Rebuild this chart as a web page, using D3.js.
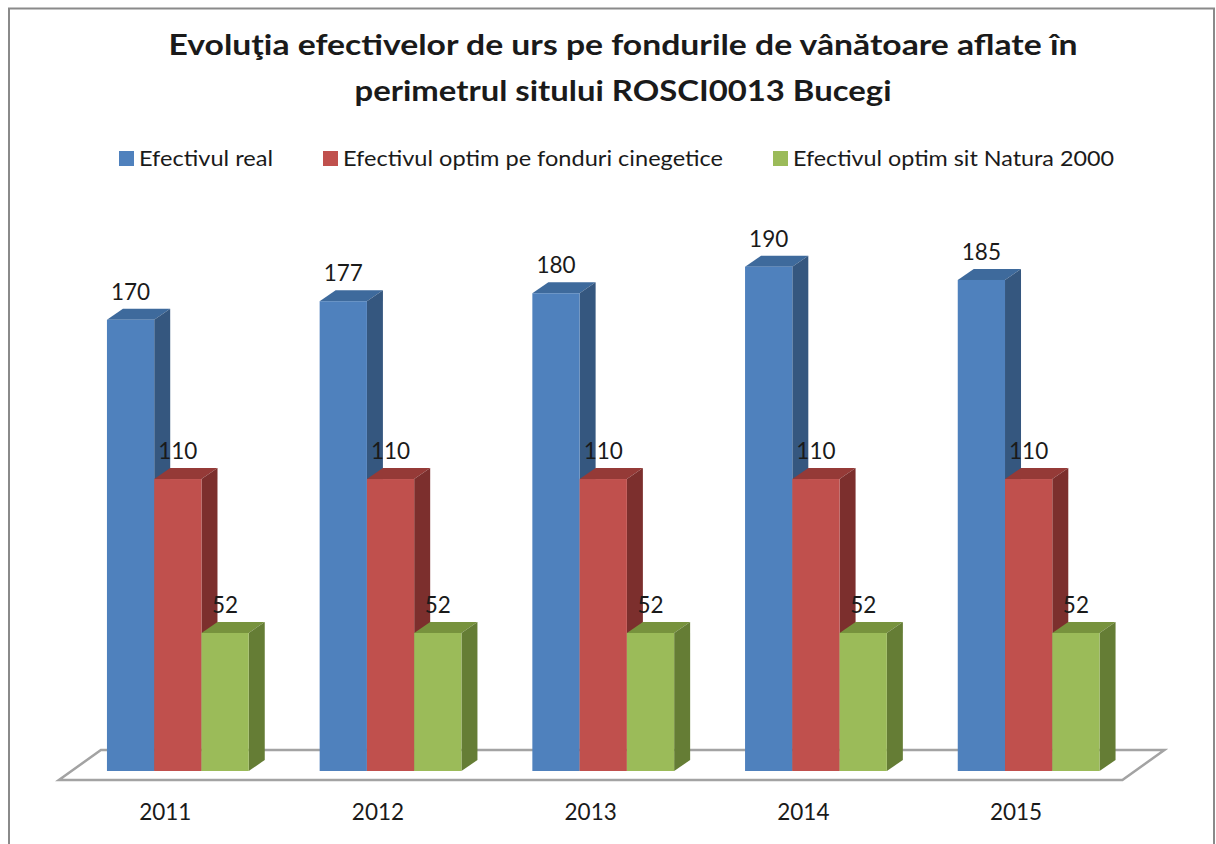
<!DOCTYPE html>
<html>
<head>
<meta charset="utf-8">
<script src="https://cdn.jsdelivr.net/npm/d3@7"></script>
<style>
  html, body { margin: 0; padding: 0; background: #fff; }
  svg { display: block; }
  text { font-family: Lato, "Open Sans", sans-serif; fill: #1a1a1a; }
</style>
</head>
<body>
<svg id="chart" width="1216" height="844"></svg>
<script>
const titleLines = ["Evoluţia efectivelor de urs pe fondurile de vânătoare aflate în", "perimetrul sitului ROSCI0013 Bucegi"];
const categories = ["2011", "2012", "2013", "2014", "2015"];
const seriesNames = ["Efectivul real", "Efectivul optim pe fonduri cinegetice", "Efectivul optim sit Natura 2000"];
const efectivReal = [170, 177, 180, 190, 185];
const efectivOptimFonduri = [110, 110, 110, 110, 110];
const efectivOptimNatura = [52, 52, 52, 52, 52];

const seriesValues = [efectivReal, efectivOptimFonduri, efectivOptimNatura];
const colors = [
  { front: "#4F81BD", top: "#3E6A9C", side: "#35577F" },
  { front: "#C0504D", top: "#953A37", side: "#7C2F2D" },
  { front: "#9BBB59", top: "#77923D", side: "#657D35" }
];

const svg = d3.select("#chart");

// chart border
svg.append("rect").attr("x", 9).attr("y", 8.5).attr("width", 1205).attr("height", 850)
  .attr("fill", "#fff").attr("stroke", "#8a8a8a").attr("stroke-width", 2);

// title
const titleW = [909, 537];
titleLines.forEach((t, i) => {
  svg.append("text").attr("x", 623).attr("y", 55 + i * 46)
    .attr("text-anchor", "middle").attr("font-weight", "bold").attr("font-size", 28)
    .attr("textLength", titleW[i]).attr("lengthAdjust", "spacingAndGlyphs")
    .attr("fill", "#000").text(t);
});

// legend
const legX = [119, 323, 773];
const legW = [134, 380, 321];
seriesNames.forEach((s, i) => {
  svg.append("rect").attr("x", legX[i]).attr("y", 151).attr("width", 15).attr("height", 15)
    .attr("fill", colors[i].front);
  svg.append("text").attr("x", legX[i] + 20).attr("y", 166).attr("font-size", 21.5)
    .attr("textLength", legW[i]).attr("lengthAdjust", "spacingAndGlyphs").text(s);
});

// scales
const x0 = d3.scaleBand().domain(categories).range([71.5, 1135]).paddingInner(1 / 3).paddingOuter(1 / 6);
const x1 = d3.scaleBand().domain(d3.range(seriesNames.length)).range([0, x0.bandwidth()]);
const y = d3.scaleLinear().domain([0, 190]).range([771, 266.7]);

// floor geometry (3D)
const floorDX = 42, floorDY = 30, barT0 = 0.3;
const barDX = 16, barDY = 11;
const fx0 = x0.range()[0] - floorDX * barT0, fx1 = x0.range()[1] - floorDX * barT0;
const fy = y(0) + floorDY * barT0;
const floorPts = [[fx0, fy], [fx1, fy], [fx1 + floorDX, fy - floorDY], [fx0 + floorDX, fy - floorDY]];
svg.append("polygon").attr("points", floorPts.map(p => p.join(",")).join(" "))
  .attr("fill", "#fff").attr("stroke", "#a3a3a3").attr("stroke-width", 2.5);

// bars
const g = svg.append("g");
categories.forEach((c, ci) => {
  seriesValues.forEach((vals, si) => {
    const v = vals[ci];
    const xl = x0(c) + x1(si), xr = xl + x1.bandwidth();
    const yt = y(v), yb = y(0);
    const col = colors[si];
    g.append("polygon")
      .attr("points", [[xl, yt], [xr, yt], [xr + barDX, yt - barDY], [xl + barDX, yt - barDY]].map(p => p.join(",")).join(" "))
      .attr("fill", col.top);
    g.append("polygon")
      .attr("points", [[xr, yt], [xr + barDX, yt - barDY], [xr + barDX, yb - barDY], [xr, yb]].map(p => p.join(",")).join(" "))
      .attr("fill", col.side);
    g.append("rect").attr("x", xl).attr("y", yt).attr("width", xr - xl).attr("height", yb - yt)
      .attr("fill", col.front);
  });
});

// value labels
categories.forEach((c, ci) => {
  seriesValues.forEach((vals, si) => {
    const v = vals[ci];
    svg.append("text")
      .attr("x", x0(c) + x1(si) + x1.bandwidth() / 2)
      .attr("y", y(v) - 20)
      .attr("text-anchor", "middle").attr("font-size", 22.5).attr("fill", "#000")
      .text(v);
  });
});

// category labels
categories.forEach(c => {
  svg.append("text")
    .attr("x", x0(c) + x0.bandwidth() / 2 - floorDX * barT0)
    .attr("y", 820)
    .attr("text-anchor", "middle").attr("font-size", 22.5)
    .text(c);
});
</script>
</body>
</html>
